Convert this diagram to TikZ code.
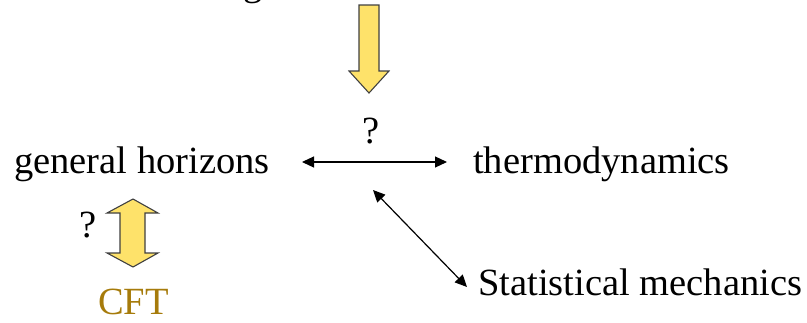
\documentclass[tikz,border=0pt]{standalone}
\usepackage{fontspec}
\setmainfont{Liberation Serif}
\usetikzlibrary{arrows.meta}
\definecolor{blockyellow}{HTML}{FEE26A}
\definecolor{blockedge}{HTML}{404040}
\definecolor{cftgold}{HTML}{A67B0B}
\tikzset{
  lbl/.style={inner sep=0pt, anchor=base west, font=\fontsize{38.5}{40}\selectfont},
  blockarrow/.style={fill=blockyellow, draw=blockedge, line width=1.1pt, line join=miter},
  thinarrow/.style={line width=1.2pt, {Triangle[length=12pt,width=11pt]}-{Triangle[length=12pt,width=11pt]}}
}
\begin{document}
\begin{tikzpicture}[x=1pt,y=-1pt]
\useasboundingbox (0,0) rectangle (807,322);
% cut-off line of text above the picture
\begin{scope}
\clip (0,0) rectangle (807,322);
\node[lbl] (topg) at (243,-4.5) {g};
\end{scope}
% texts
\node[lbl] (gh) at (14,173) {general horizons};
\node[lbl] (th) at (473,173) {thermodynamics};
\node[lbl] (sm) at (478,295) {Statistical mechanics};
\node[lbl, text=cftgold] (cft) at (98,314) {CFT};
\node[lbl] (q1) at (362,143) {?};
\node[lbl] (q2) at (79,237) {?};
% thin double arrows
\coordinate (hl) at (302,162);
\coordinate (hr) at (447,162);
\coordinate (dl) at (373,190);
\coordinate (dr) at (467,287);
\draw[thinarrow] (hl) -- (hr);
\draw[thinarrow] (dl) -- (dr);
% yellow block arrow down
\draw[blockarrow] (359,5) -- (379,5) -- (379,71) -- (389,71) -- (369,93) -- (349,71) -- (359,71) -- cycle;
% yellow double block arrow
\draw[blockarrow] (133,199) -- (158,213) -- (145,213) -- (145,253) -- (158,253) -- (133,267)
  -- (107,253) -- (120,253) -- (120,213) -- (107,213) -- cycle;
\end{tikzpicture}
\end{document}
